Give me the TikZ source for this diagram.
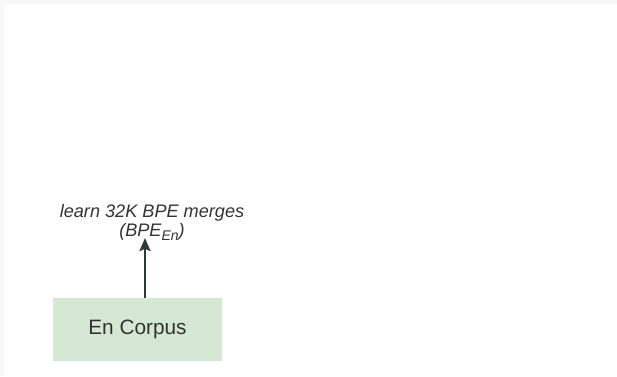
\documentclass[tikz,border=0pt]{standalone}
\usepackage{fontspec}
\setmainfont{Liberation Sans}
\usepackage{tikz,xcolor}
\usetikzlibrary{arrows.meta}
\definecolor{corpusgreen}{HTML}{D5E8D4}
\definecolor{inkgray}{HTML}{333333}
\definecolor{arrowgray}{HTML}{2B3A3A}
\definecolor{edgegray}{HTML}{F8F8F8}
\newcommand{\lowsub}[1]{\raisebox{-3.2pt}{\fontsize{10.5}{12}\selectfont #1}}

\begin{document}
\begin{tikzpicture}[x=0.75pt,y=-0.75pt]
        \useasboundingbox (0,0) rectangle (617,376);
        \fill[edgegray] (0,0) rectangle (617,4);
        \fill[edgegray] (0,0) rectangle (4,376);
        \node[fill=corpusgreen,inner sep=0pt,minimum width=126.75pt,minimum height=47.25pt,text=inkgray,font=\fontsize{15.6}{18}\selectfont] (corpus) at (137.5,329.5) {En Corpus};
        \node[align=center,inner sep=0pt,text=inkgray,font=\fontsize{13.6}{14.6}\selectfont\itshape] (merges) at (152,222.5) {learn 32K BPE merges\\(BPE\lowsub{En})};
        \coordinate (tip) at (145,238);
        \draw[arrowgray,line width=1.1pt,-{Stealth[length=10pt,width=8.5pt,inset=2pt]}] (corpus.north -| tip) -- (tip);
    \end{tikzpicture}
\end{document}
